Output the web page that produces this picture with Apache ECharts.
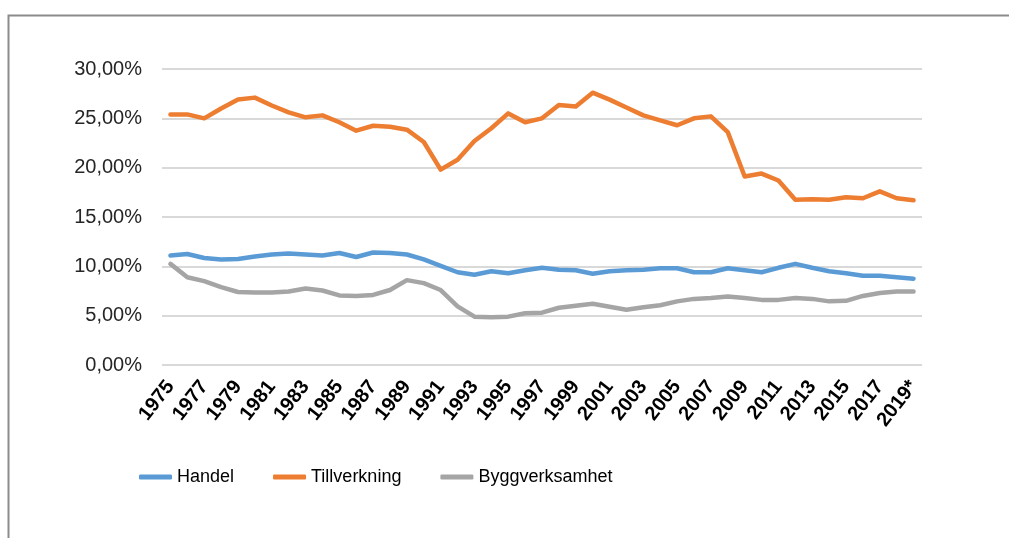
<!DOCTYPE html>
<html>
<head>
<meta charset="utf-8">
<script src="https://cdn.jsdelivr.net/npm/echarts@6/dist/echarts.min.js"></script>
<style>
  html, body { margin: 0; padding: 0; background: #fff; }
  #chart { width: 1009px; height: 538px; }
</style>
</head>
<body>
<div id="chart"></div>
<script>
var years = ['1975','1976','1977','1978','1979','1980','1981','1982','1983','1984',
  '1985','1986','1987','1988','1989','1990','1991','1992','1993','1994',
  '1995','1996','1997','1998','1999','2000','2001','2002','2003','2004',
  '2005','2006','2007','2008','2009','2010','2011','2012','2013','2014',
  '2015','2016','2017','2018','2019*'];

var handel = [11.1, 11.25, 10.85, 10.7, 10.75, 11.0, 11.2, 11.3, 11.2, 11.1,
  11.35, 10.95, 11.4, 11.35, 11.2, 10.7, 10.05, 9.4, 9.15, 9.5,
  9.3, 9.6, 9.85, 9.65, 9.6, 9.25, 9.5, 9.6, 9.65, 9.8,
  9.8, 9.4, 9.4, 9.8, 9.6, 9.4, 9.85, 10.25, 9.85, 9.5,
  9.3, 9.05, 9.05, 8.9, 8.75];

var tillverkning = [25.4, 25.4, 25.0, 26.0, 26.9, 27.1, 26.3, 25.6, 25.1, 25.3,
  24.6, 23.75, 24.25, 24.15, 23.85, 22.6, 19.8, 20.8, 22.7, 24.0,
  25.5, 24.6, 25.0, 26.35, 26.2, 27.6, 26.9, 26.1, 25.3, 24.8,
  24.3, 25.0, 25.2, 23.6, 19.1, 19.4, 18.7, 16.75, 16.8, 16.75,
  17.0, 16.9, 17.6, 16.9, 16.7];

var bygg = [10.25, 8.9, 8.5, 7.9, 7.4, 7.35, 7.35, 7.45, 7.75, 7.55,
  7.05, 7.0, 7.1, 7.6, 8.6, 8.3, 7.6, 5.95, 4.9, 4.85,
  4.9, 5.25, 5.3, 5.8, 6.0, 6.2, 5.9, 5.6, 5.85, 6.05,
  6.45, 6.7, 6.8, 6.95, 6.8, 6.6, 6.6, 6.8, 6.7, 6.45,
  6.5, 7.0, 7.3, 7.45, 7.45];

var seriesNames = ['Handel', 'Tillverkning', 'Byggverksamhet'];
var colors = ['#5B9BD5', '#ED7D31', '#A5A5A5'];

var chart = echarts.init(document.getElementById('chart'), null, { renderer: 'canvas' });

function lineSeries(name, data, color) {
  return {
    name: name,
    type: 'line',
    data: data,
    showSymbol: false,
    symbol: 'none',
    smooth: false,
    animation: false,
    itemStyle: { color: color },
    lineStyle: { color: color, width: 4.5, cap: 'round', join: 'round' }
  };
}

chart.setOption({
  animation: false,
  backgroundColor: '#ffffff',
  graphic: [{
    type: 'polyline',
    shape: { points: [[8.5, 538], [8.5, 15.5], [1009, 15.5]] },
    style: { stroke: '#8c8c8c', lineWidth: 2, fill: null },
    silent: true
  }],
  grid: { left: 162, right: 87, top: 69, bottom: 173, containLabel: false },
  legend: {
    data: seriesNames,
    left: 134,
    top: 463,
    icon: 'roundRect',
    itemWidth: 33,
    itemHeight: 5,
    itemGap: 39,
    textStyle: { fontFamily: 'Liberation Sans', fontSize: 18, color: '#000' }
  },
  xAxis: {
    type: 'category',
    data: years,
    boundaryGap: true,
    axisLine: { show: false },
    axisTick: { show: false },
    axisLabel: {
      interval: 1,
      rotate: 52,
      margin: 18,
      fontFamily: 'Liberation Sans',
      fontWeight: 'bold',
      fontSize: 20,
      color: '#000'
    },
    splitLine: { show: false }
  },
  yAxis: {
    type: 'value',
    min: 0,
    max: 30,
    interval: 5,
    axisLine: { show: false },
    axisTick: { show: false },
    axisLabel: {
      margin: 20,
      fontFamily: 'Liberation Sans',
      fontSize: 20,
      color: '#262626',
      formatter: function (v) { return v.toFixed(2).replace('.', ',') + '%'; }
    },
    splitLine: { show: true, lineStyle: { color: '#d9d9d9', width: 2 } }
  },
  series: [
    lineSeries(seriesNames[0], handel, colors[0]),
    lineSeries(seriesNames[1], tillverkning, colors[1]),
    lineSeries(seriesNames[2], bygg, colors[2])
  ]
});
</script>
</body>
</html>
